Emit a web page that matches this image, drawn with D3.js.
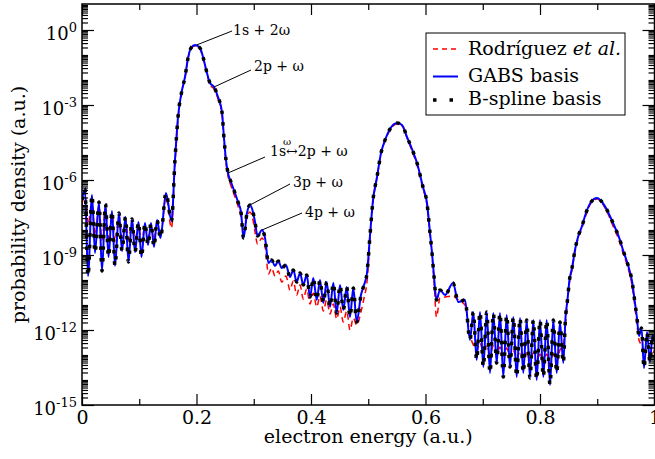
<!DOCTYPE html>
<html><head><meta charset="utf-8">
<script src="https://cdn.jsdelivr.net/npm/d3@7"></script>
<style>
body{margin:0;background:#fff;}
svg{display:block;}
</style></head>
<body>
<svg id="chart" width="655" height="459"></svg>
<script>
// ---- data (electron energy in a.u., log10 of probability density) ----
const energy = [0,0.0052,0.0105,0.0175,0.0227,0.0297,0.0349,0.0410,0.0463,0.0524,
0.0576,0.0646,0.0699,0.0760,0.0812,0.0873,0.0926,0.0987,0.1039,0.1100,
0.1153,0.1205,0.1258,0.1310,0.1371,0.1467,0.1563,
0.1624,0.1677,0.1747,0.1799,0.1852,0.1904,0.1974,0.2061,0.2114,0.2183,
0.2236,0.2306,0.2376,0.2445,0.2480,0.2515,0.2550,0.2603,0.2672,0.2725,
0.2777,0.2821,0.2882,0.2934,0.2987,0.3022,0.3066,0.3144,0.3197,
0.3258,0.3313,0.3371,0.3429,0.3488,0.3563,0.3633,0.3691,0.3750,0.3808,
0.3865,0.3925,0.3983,0.4040,0.4100,0.4157,0.4215,0.4274,0.4332,0.4390,
0.4449,0.4507,0.4564,0.4624,0.4681,0.4739,0.4798,
0.4873,0.4926,0.4978,0.5031,0.5083,0.5153,0.5223,0.5293,0.5380,0.5502,
0.5590,0.5677,0.5764,0.5852,0.5956,0.6026,0.6079,0.6114,0.6148,0.6192,
0.6253,0.6341,0.6480,0.6573,0.6690,0.6777,
0.6835,0.6894,0.6952,0.7010,0.7069,0.7127,0.7184,0.7244,0.7301,0.7359,
0.7418,0.7476,0.7534,0.7593,0.7651,0.7708,0.7768,0.7825,0.7883,0.7942,
0.8000,0.8058,0.8117,0.8175,0.8232,0.8292,0.8349,0.8407,
0.8445,0.8480,0.8515,0.8559,0.8611,0.8664,0.8734,0.8803,0.8891,0.8996,
0.9083,0.9188,0.9275,0.9397,0.9450,0.9537,0.9607,0.9659,0.9694,0.9729,
0.9773,0.9817,0.9869,0.9921,0.9965,1.0];

const gabsLog = [-6.8,-6.36,-9.84,-6.6,-8.92,-6.88,-9.64,-6.96,-9.08,-7.24,
-9.44,-7.32,-8.84,-7.48,-9.28,-7.56,-8.88,-7.68,-9.08,-7.72,
-8.6,-7.72,-8.68,-7.6,-8.32,-6.52,-7.64,
-5.2,-3.48,-2.4,-1.88,-1.12,-0.72,-0.6,-0.72,-1.08,-1.72,
-2.12,-2.28,-2.68,-3.28,-4.32,-5.2,-5.72,-6.08,-6.52,-6.88,
-7.28,-8.32,-7.32,-7.0,-7.28,-7.68,-8.24,-8.0,-8.32,
-9.32,-9.2,-9.44,-9.24,-9.52,-9.4,-9.88,-9.6,-10.08,-9.72,
-10.2,-9.8,-10.68,-9.92,-10.8,-10.0,-10.92,-10.08,-11.08,-10.12,
-11.32,-10.2,-11.2,-10.28,-11.48,-10.32,-11.68,
-10.6,-10.2,-9.72,-8.2,-6.8,-5.88,-4.92,-4.4,-3.96,-3.72,
-3.8,-4.28,-4.76,-5.32,-6.28,-6.92,-8.12,-8.92,-9.84,-10.8,
-10.4,-10.6,-10.12,-10.88,-10.8,-12.4,
-11.28,-13.2,-11.28,-13.48,-11.28,-13.72,-11.32,-13.32,-11.32,-13.88,
-11.4,-13.48,-11.48,-13.88,-11.52,-13.72,-11.6,-13.92,-11.6,-14.0,
-11.6,-13.88,-11.6,-14.2,-11.6,-13.72,-11.68,-13.32,
-11.52,-10.8,-10.0,-9.52,-8.8,-8.28,-7.84,-7.32,-6.88,-6.72,
-6.88,-7.28,-7.72,-8.4,-8.8,-9.4,-10.04,-10.92,-11.52,-12.24,
-11.92,-13.52,-12.08,-13.28,-12.2,-12.48];

const rodriguezLog = [-7.0,-6.48,-7.8,-6.8,-8.2,-7.04,-8.4,-7.12,-8.32,-7.36,
-8.48,-7.44,-8.32,-7.6,-8.4,-7.68,-8.4,-7.8,-8.48,-7.84,
-8.32,-7.84,-8.4,-7.76,-8.24,-6.68,-7.92,
-5.4,-3.6,-2.48,-1.92,-1.16,-0.72,-0.64,-0.76,-1.12,-1.76,
-2.2,-2.36,-2.76,-3.36,-4.4,-5.32,-5.84,-6.24,-6.68,-7.04,
-7.44,-8.08,-7.48,-7.28,-7.6,-8.08,-8.56,-8.32,-8.64,
-9.76,-9.52,-9.84,-9.64,-10.08,-9.84,-10.4,-10.04,-10.6,-10.2,
-10.76,-10.36,-10.96,-10.52,-11.08,-10.64,-11.24,-10.8,-11.36,-10.96,
-11.56,-11.08,-11.68,-11.24,-12.0,-11.52,-11.8,
-11.28,-10.72,-10.08,-8.4,-6.92,-5.92,-4.96,-4.44,-4.0,-3.76,
-3.84,-4.32,-4.84,-5.4,-6.36,-7.0,-8.2,-9.04,-10.0,-11.48,
-10.72,-10.68,-10.64,-10.8,-11.0,-12.2,
-12.6,-12.8,-12.52,-12.88,-12.6,-12.96,-12.64,-13.0,-12.68,-13.04,
-12.72,-13.08,-12.8,-13.16,-12.84,-13.2,-12.88,-13.24,-12.92,-13.28,
-12.96,-13.32,-12.96,-13.36,-12.96,-13.24,-12.8,-12.6,
-11.8,-10.92,-10.08,-9.6,-8.88,-8.36,-7.92,-7.4,-6.92,-6.76,
-6.92,-7.36,-7.84,-8.52,-8.92,-9.52,-10.2,-11.08,-11.8,-12.4,
-12.6,-12.8,-12.88,-13.12,-13.0,-12.8];

// B-spline basis results coincide with the GABS curve in the figure
const bsplineLog = gabsLog;

const xMajorTicks = [0, 0.2, 0.4, 0.6, 0.8, 1];
const xTickLabels = ["0", "0.2", "0.4", "0.6", "0.8", "1"];
const xMinorTicks = [0.1, 0.3, 0.5, 0.7, 0.9];
const yMajorExponents = [0, -3, -6, -9, -12, -15];

const seriesNames = ["Rodríguez", "GABS basis", "B-spline basis"];
const annotations = [
  {label: "1s + 2ω", e: 0.2, lg: -0.6},
  {label: "2p + ω", e: 0.2306, lg: -2.28},
  {label: "1s↔2p + ω", e: 0.2550, lg: -5.72},
  {label: "3p + ω", e: 0.2934, lg: -7.0},
  {label: "4p + ω", e: 0.3144, lg: -8.0}
];

// ---- layout ----
const FONT = "'DejaVu Serif', 'Liberation Serif', 'Times New Roman', serif";
const svg = d3.select("#chart");
const L = 82, R = 654.5, T = 4, B = 405;
const x = d3.scaleLinear().domain([0, 1]).range([L, R]);
const y = d3.scaleLog().domain([1e-15, Math.pow(10, 1.04)]).range([B, T]);

svg.append("defs").append("clipPath").attr("id", "clip")
  .append("rect").attr("x", L).attr("y", T).attr("width", R - L).attr("height", B - T);

const mk = arr => energy.map((e, i) => ({e, v: Math.pow(10, arr[i])}));
const line = d3.line().x(d => x(d.e)).y(d => y(d.v)).curve(d3.curveMonotoneX);

const plot = svg.append("g").attr("clip-path", "url(#clip)");
plot.append("path").attr("d", line(mk(rodriguezLog)))
  .attr("fill", "none").attr("stroke", "#ff0000").attr("stroke-width", 1.5)
  .attr("stroke-dasharray", "6,4");
plot.append("path").attr("d", line(mk(gabsLog)))
  .attr("fill", "none").attr("stroke", "#0000ff").attr("stroke-width", 2);
plot.append("path").attr("d", line(mk(bsplineLog)))
  .attr("fill", "none").attr("stroke", "#000").attr("stroke-width", 3.5)
  .attr("stroke-dasharray", "3.5,8");

// ---- axes ----
function styleAxis(g){ g.attr("font-family", null); g.select(".domain").remove(); g.selectAll("line").attr("stroke","#000").attr("stroke-width",1.2); }
const yMinor = [];
for (let k = -15; k <= 1; k++) for (let m = 1; m <= 9; m++) {
  const v = m * Math.pow(10, k);
  if (v > Math.pow(10, 1.04)) continue;
  if (m === 1 && k % 3 === 0 && k <= 0) continue;
  yMinor.push(v);
}
const yMajor = yMajorExponents.map(k => Math.pow(10, k));

svg.append("g").attr("transform", `translate(0,${B})`)
  .call(d3.axisBottom(x).tickValues(xMajorTicks).tickSize(-11).tickPadding(6)
    .tickFormat((d, i) => xTickLabels[i]))
  .call(styleAxis)
  .call(g => g.selectAll("text").attr("font-size", 19).attr("fill", "#000"));
svg.append("g").attr("transform", `translate(0,${B})`)
  .call(d3.axisBottom(x).tickValues(xMinorTicks).tickSize(-6).tickFormat("")).call(styleAxis);
svg.append("g").attr("transform", `translate(0,${T})`)
  .call(d3.axisTop(x).tickValues(xMajorTicks).tickSize(-11).tickFormat("")).call(styleAxis);
svg.append("g").attr("transform", `translate(0,${T})`)
  .call(d3.axisTop(x).tickValues(xMinorTicks).tickSize(-6).tickFormat("")).call(styleAxis);

svg.append("g").attr("transform", `translate(${L},0)`)
  .call(d3.axisLeft(y).tickValues(yMajor).tickSize(-12).tickFormat("")).call(styleAxis);
svg.append("g").attr("transform", `translate(${L},0)`)
  .call(d3.axisLeft(y).tickValues(yMinor).tickSize(-6).tickFormat("")).call(styleAxis);
svg.append("g").attr("transform", `translate(${R},0)`)
  .call(d3.axisRight(y).tickValues(yMajor).tickSize(-12).tickFormat("")).call(styleAxis);
svg.append("g").attr("transform", `translate(${R},0)`)
  .call(d3.axisRight(y).tickValues(yMinor).tickSize(-6).tickFormat("")).call(styleAxis);

// y tick labels 10^k
yMajorExponents.forEach(k => {
  const t = svg.append("text").attr("x", 77).attr("y", y(Math.pow(10, k)) + 10)
    .attr("text-anchor", "end").attr("font-size", 18);
  t.append("tspan").text("10");
  t.append("tspan").attr("font-size", 13).attr("dy", -8).text(String(k));
});

// frame
svg.append("rect").attr("x", L).attr("y", T).attr("width", R - L).attr("height", B - T)
  .attr("fill", "none").attr("stroke", "#000").attr("stroke-width", 1.5);

// axis titles
svg.append("text").attr("x", (L + R) / 2).attr("y", 443).attr("text-anchor", "middle")
  .attr("font-size", 19).text("electron energy (a.u.)");
svg.append("text").attr("transform", `translate(25,${(T + B) / 2}) rotate(-90)`)
  .attr("text-anchor", "middle").attr("font-size", 19).text("probability density (a.u.)");

// ---- annotations ----
const annPos = [
  {tx: 233, ty: 35, lx: 232, ly: 31},
  {tx: 254, ty: 71, lx: 251, ly: 70},
  {tx: 270, ty: 156, lx: 265, ly: 157},
  {tx: 293, ty: 187, lx: 290, ly: 184},
  {tx: 305, ty: 217, lx: 302, ly: 213}
];
annotations.forEach((a, i) => {
  const p = annPos[i];
  svg.append("line").attr("x1", x(a.e)).attr("y1", y(Math.pow(10, a.lg)))
    .attr("x2", p.lx).attr("y2", p.ly).attr("stroke", "#000").attr("stroke-width", 1);
  const t = svg.append("text").attr("x", p.tx).attr("y", p.ty).attr("font-size", 14);
  if (a.label.includes("↔")) {
    const parts = a.label.split("↔");
    t.append("tspan").text(parts[0]);
    t.append("tspan").text("↔");
    t.append("tspan").text(parts[1]);
  } else {
    t.text(a.label);
  }
});
// small omega above the arrow
svg.append("text").attr("x", 287).attr("y", 145).attr("text-anchor", "middle")
  .attr("font-size", 10).text("ω");

// ---- legend ----
const lg = svg.append("g");
lg.append("rect").attr("x", 426).attr("y", 33).attr("width", 199).attr("height", 82)
  .attr("fill", "#fff").attr("stroke", "#000").attr("stroke-width", 1);
const rows = [55, 81.5, 105];
lg.append("line").attr("x1", 433).attr("x2", 458).attr("y1", rows[0] - 6).attr("y2", rows[0] - 6)
  .attr("stroke", "#ff0000").attr("stroke-width", 1.5).attr("stroke-dasharray", "5,4");
lg.append("line").attr("x1", 433).attr("x2", 458).attr("y1", rows[1] - 5).attr("y2", rows[1] - 5)
  .attr("stroke", "#0000ff").attr("stroke-width", 2);
lg.append("line").attr("x1", 433).attr("x2", 458).attr("y1", rows[2] - 5).attr("y2", rows[2] - 5)
  .attr("stroke", "#000").attr("stroke-width", 3.5).attr("stroke-dasharray", "3.5,13");
const t0 = lg.append("text").attr("x", 468).attr("y", rows[0]).attr("font-size", 19);
t0.append("tspan").text(seriesNames[0] + " ");
t0.append("tspan").attr("font-style", "italic").text("et al.");
lg.append("text").attr("x", 468).attr("y", rows[1]).attr("font-size", 19).text(seriesNames[1]);
lg.append("text").attr("x", 468).attr("y", rows[2]).attr("font-size", 19).text(seriesNames[2]);

// serif font everywhere
svg.selectAll("text").style("font-family", FONT).style("fill", "#000");
</script>
</body></html>
